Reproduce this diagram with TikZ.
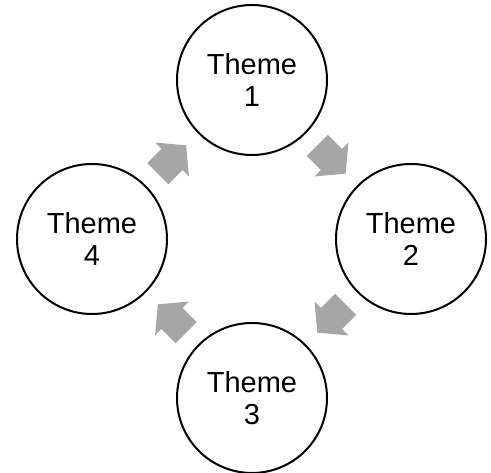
\documentclass[tikz,border=0pt]{standalone}
\usepackage{fontspec}
\setmainfont{Liberation Sans}
\usetikzlibrary{calc}
\definecolor{arrowgray}{HTML}{A6A6A6}
\tikzset{
  theme/.style={circle, draw=black, line width=2pt, fill=white,
    minimum size=150pt, inner sep=0pt, align=center,
    font=\fontsize{29}{32}\selectfont},
  flowarrow/.pic={
    \fill[arrowgray] (-20,-15) -- (0,-15) -- (0,-24) -- (20,0)
      -- (0,24) -- (0,15) -- (-20,15) -- cycle;
  }
}
\begin{document}
\begin{tikzpicture}[x=1pt, y=1pt]
  \useasboundingbox (0,0) rectangle (491,473);
  % the four themes around the cycle
  \node[theme] (t1) at (252,393) {Theme\\1};
  \node[theme] (t2) at (411,234) {Theme\\2};
  \node[theme] (t3) at (252,75)  {Theme\\3};
  \node[theme] (t4) at (92,234)  {Theme\\4};
  % block arrows between neighbouring themes
  \pic[rotate=-45]  at ($(t1)!0.5!(t2)$) {flowarrow};
  \pic[rotate=-135] at ($(t2)!0.5!(t3)$) {flowarrow};
  \pic[rotate=135]  at ($(t3)!0.5!(t4)$) {flowarrow};
  \pic[rotate=45]   at ($(t4)!0.5!(t1)$) {flowarrow};
\end{tikzpicture}
\end{document}
